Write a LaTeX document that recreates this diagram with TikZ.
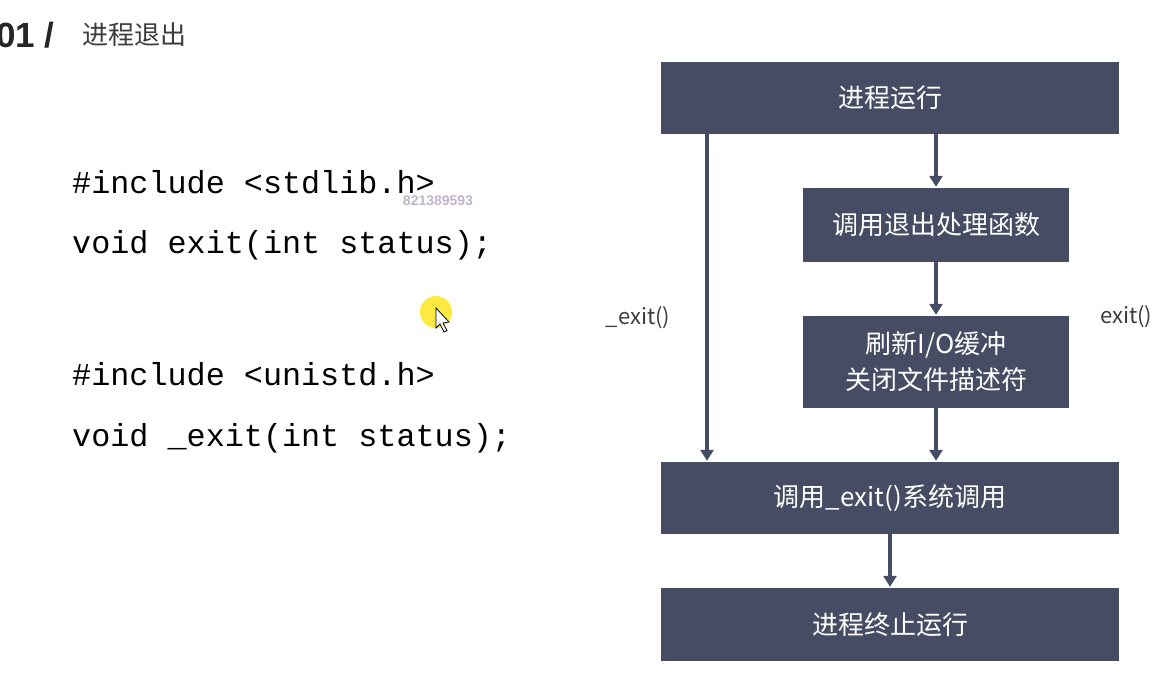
\documentclass[tikz,border=0pt]{standalone}
\usepackage{fontspec}
\setmainfont{Liberation Sans}
\newfontfamily\cjk{Noto Sans CJK SC}
\newfontfamily\codefont{Liberation Mono}
\usetikzlibrary{arrows.meta,positioning}
\definecolor{boxblue}{HTML}{454C63}
\definecolor{titlegray}{HTML}{3C3C3C}
\definecolor{markgray}{HTML}{BEB6C8}
\begin{document}
\begin{tikzpicture}[x=1pt,y=-1pt,
  box/.style={fill=boxblue,text=white,inner sep=0pt,align=center,
    font=\cjk\fontsize{26}{36}\selectfont},
  arr/.style={draw=boxblue,line width=4pt,shorten >=1pt,-{Triangle[width=13pt,length=11pt]}},
  code/.style={anchor=west,inner sep=0pt,font=\codefont\fontsize{31.8}{32}\selectfont},
  lbl/.style={inner sep=0pt,font=\cjk\fontsize{22}{22}\selectfont,text=titlegray}]
\useasboundingbox (0,0) rectangle (1161,699);
% title
\node[anchor=west,inner sep=0pt,font=\bfseries\fontsize{35}{35}\selectfont,text=black!85] (num) at (-4,35) {01 /};
\node[anchor=west,inner sep=0pt,font=\cjk\fontsize{26}{26}\selectfont,text=titlegray] (title) at (82,35) {进程退出};
% code
\node[code] (inc1) at (72,182) {\#include <stdlib.h>};
\node[code] (fn1) at (72,245) {void exit(int status);};
\node[code] (inc2) at (72,374) {\#include <unistd.h>};
\node[code] (fn2) at (72,438) {void \_exit(int status);};
\node[inner sep=0pt,font=\bfseries\fontsize{14}{14}\selectfont,text=markgray] (mark) at (438,201) {821389593};
% cursor
\fill[yellow!85!orange!75] (436,312) circle (16);
\draw[fill=white,line width=.8pt] (436,308) -- (436,328) -- (440,324) -- (444,332) -- (447,330.5) -- (443,323) -- (449,322) -- cycle;
% flow
\node[box,minimum width=458,minimum height=72] (run) at (890,98) {进程运行};
\node[box,minimum width=266,minimum height=74] (handler) at (936,225) {调用退出处理函数};
\node[box,minimum width=266,minimum height=92] (flush) at (936,362) {刷新I/O缓冲\\关闭文件描述符};
\node[box,minimum width=458,minimum height=72] (sys) at (890,498) {调用\_exit()系统调用};
\node[box,minimum width=458,minimum height=73] (stop) at (890,624.5) {进程终止运行};
\draw[arr] (run.south -| handler.north) -- (handler.north);
\draw[arr] (handler) -- (flush);
\draw[arr] (flush) -- (flush.south |- sys.north);
\draw[arr] (sys) -- (stop);
\coordinate (lx) at (707,0);
\draw[arr] (run.south -| lx) -- (sys.north -| lx);
\node[lbl] (quick) at (638,318) {\_exit()};
\node[lbl,anchor=west] (normal) at (1100,317) {exit()};
\end{tikzpicture}
\end{document}
